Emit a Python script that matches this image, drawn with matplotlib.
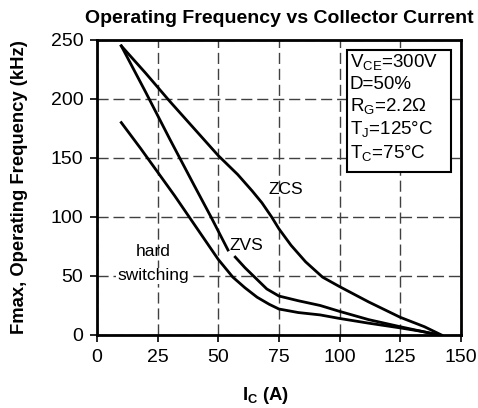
import numpy as np
import matplotlib
matplotlib.use('Agg')
import matplotlib.pyplot as plt
from matplotlib.patches import Rectangle

plt.rcParams['font.family'] = ['Liberation Sans', 'DejaVu Sans']

# curves: Ic (A) vs Fmax (kHz)
zcs_x = [10, 20, 30, 40, 50, 58, 64, 68, 72, 75, 80, 86, 93, 100, 112, 125, 135, 142]
zcs_y = [245, 222, 198, 175, 152, 136, 122, 112, 100, 90, 76, 62, 49, 41, 28, 15, 7, 0]

zvs_x1 = [10, 20, 30, 40, 47, 54]
zvs_y1 = [245, 206, 166, 127, 100, 72]
zvs_x2 = [57, 61, 65, 70, 75, 83, 92, 100, 112, 125, 134, 141]
zvs_y2 = [66, 57, 49, 39, 33, 29, 25, 20, 13, 7, 3, 0]

hard_x = [10, 18, 25, 32, 38, 44, 50, 56, 61, 66, 71, 75, 83, 92, 100, 112, 125, 134, 141]
hard_y = [180, 158, 138, 118, 100, 82, 64, 49, 40, 32, 26, 22, 19, 17, 14, 10, 6, 3, 0]

xticks = [0, 25, 50, 75, 100, 125, 150]
yticks = [0, 50, 100, 150, 200, 250]

fig = plt.figure(figsize=(4.78, 4.08), dpi=100)
ax = fig.add_axes([0.203, 0.179, 0.761, 0.723])

lw = 2.0
ax.plot(zcs_x, zcs_y, color='black', lw=lw, zorder=3)
ax.plot(zvs_x1, zvs_y1, color='black', lw=lw, zorder=3)
ax.plot(zvs_x2, zvs_y2, color='black', lw=lw, zorder=3)
ax.plot(hard_x, hard_y, color='black', lw=lw, zorder=3)

ax.set_xlim(0, 150)
ax.set_ylim(0, 250)
ax.set_xticks(xticks)
ax.set_yticks(yticks)
ax.grid(True, color='#404040', linestyle=(0, (8, 3.5)), lw=1.0)
ax.tick_params(direction='out', length=5, width=1.2, labelsize=14, pad=5)
for s in ax.spines.values():
    s.set_linewidth(2)

ax.text(78, 123, 'ZCS', fontsize=12.5, ha='center', va='center')
ax.text(61.5, 76, 'ZVS', fontsize=12.5, ha='center', va='center')
ax.text(23, 71, 'hard', fontsize=12.5, ha='center', va='center')
ax.text(23, 50, 'switching', fontsize=12.5, ha='center', va='center',
        bbox=dict(facecolor='white', edgecolor='none', pad=0.5), zorder=4)

# conditions box
ax.add_patch(Rectangle((102.9, 138.4), 43.1, 103.1, facecolor='white',
                       edgecolor='black', lw=1.5, zorder=5))
box = ('V$_{\\mathregular{CE}}$=300V\nD=50%\nR$_{\\mathregular{G}}$=2.2\u03a9\n'
       'T$_{\\mathregular{J}}$=125\u00b0C\nT$_{\\mathregular{C}}$=75\u00b0C')
ax.text(104.2, 239, box, fontsize=13.5, ha='left', va='top', linespacing=1.22,
        zorder=6)

ax.set_title('Operating Frequency vs Collector Current', fontsize=14,
             fontweight='bold', pad=12)
ax.set_xlabel('I$_{\\mathregular{C}}$ (A)', fontsize=13.3, fontweight='bold')
ax.set_ylabel('Fmax, Operating Frequency (kHz)', fontsize=13.3, fontweight='bold')
ax.xaxis.set_label_coords(0.463, -0.17)
ax.yaxis.set_label_coords(-0.19, 0.5)

fig.savefig('out.png', dpi=100)
